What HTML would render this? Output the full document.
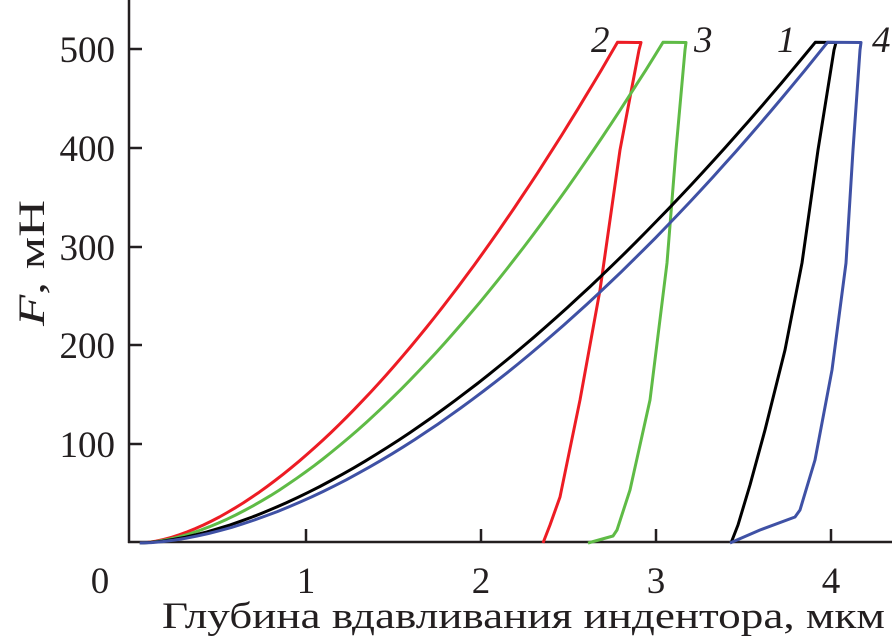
<!DOCTYPE html>
<html><head><meta charset="utf-8"><style>body{margin:0;background:#fff}</style></head><body>
<svg width="896" height="639" xmlns="http://www.w3.org/2000/svg" font-family="Liberation Serif, serif">
<g stroke="#231f20" stroke-width="2.5" fill="none">
<line x1="129" y1="0" x2="129" y2="543"/>
<line x1="128" y1="542" x2="892" y2="542"/>
<line x1="129" y1="49" x2="142" y2="49"/><line x1="129" y1="148" x2="142" y2="148"/>
<line x1="129" y1="247" x2="142" y2="247"/><line x1="129" y1="345" x2="142" y2="345"/>
<line x1="129" y1="444" x2="142" y2="444"/>
<line x1="306" y1="542" x2="306" y2="529"/><line x1="481" y1="542" x2="481" y2="529"/>
<line x1="656" y1="542" x2="656" y2="529"/><line x1="831" y1="542" x2="831" y2="529"/>
</g>
<g font-size="37" fill="#231f20" text-anchor="end">
<text x="115" y="62">500</text><text x="115" y="161">400</text><text x="115" y="260">300</text>
<text x="115" y="358">200</text><text x="115" y="457">100</text>
</g>
<g font-size="37" fill="#231f20" text-anchor="middle">
<text x="100" y="593">0</text><text x="306" y="593">1</text><text x="481" y="593">2</text>
<text x="656" y="593">3</text><text x="831" y="593">4</text>
</g>
<text x="162" y="628" font-size="37" fill="#231f20" textLength="723" lengthAdjust="spacingAndGlyphs">Глубина вдавливания индентора, мкм</text>
<text transform="translate(44,326) rotate(-90)" font-size="37" fill="#231f20" textLength="126" lengthAdjust="spacingAndGlyphs"><tspan font-style="italic">F</tspan>, мН</text>
<g font-size="37" font-style="italic" fill="#231f20">
<text x="591" y="52">2</text><text x="694" y="52">3</text><text x="777" y="52">1</text><text x="872" y="52">4</text>
</g>
<g id="c" fill="none" stroke-width="3" stroke-linejoin="round"></g>
<script>
function curve(h1,n,xe,color,unload){
 var p=[];for(var i=0;i<=60;i++){var h=0.05+(h1-0.05)*i/60;var F=507*Math.pow((h-0.05)/(h1-0.05),n);p.push((131+175*h).toFixed(1)+','+(543-0.9875*F).toFixed(1));}
 p.push(xe+',42.5');p=p.concat(unload);
 var el=document.createElementNS('http://www.w3.org/2000/svg','polyline');
 el.setAttribute('points',p.join(' '));el.setAttribute('stroke',color);
 document.getElementById('c').appendChild(el);
}
curve(2.78,1.65,641,'#ed1c24',['639,50','620,150','600,290','580,400','560,497','550,525','543,543']);
curve(3.04,1.7,686,'#5fbb46',['685,50','676,150','667,263','650,400','630,490','617,530','613,536','588,543']);
curve(3.91,1.65,836,'#000000',['834,50','818,150','802,263','785,350','765,430','750,485','738,525','731,543']);
curve(3.98,1.72,861,'#3f51a5',['860,50','853,150','846,263','832,370','815,460','800,510','795,517','760,530','730,543']);
</script>
</svg>
</body></html>
